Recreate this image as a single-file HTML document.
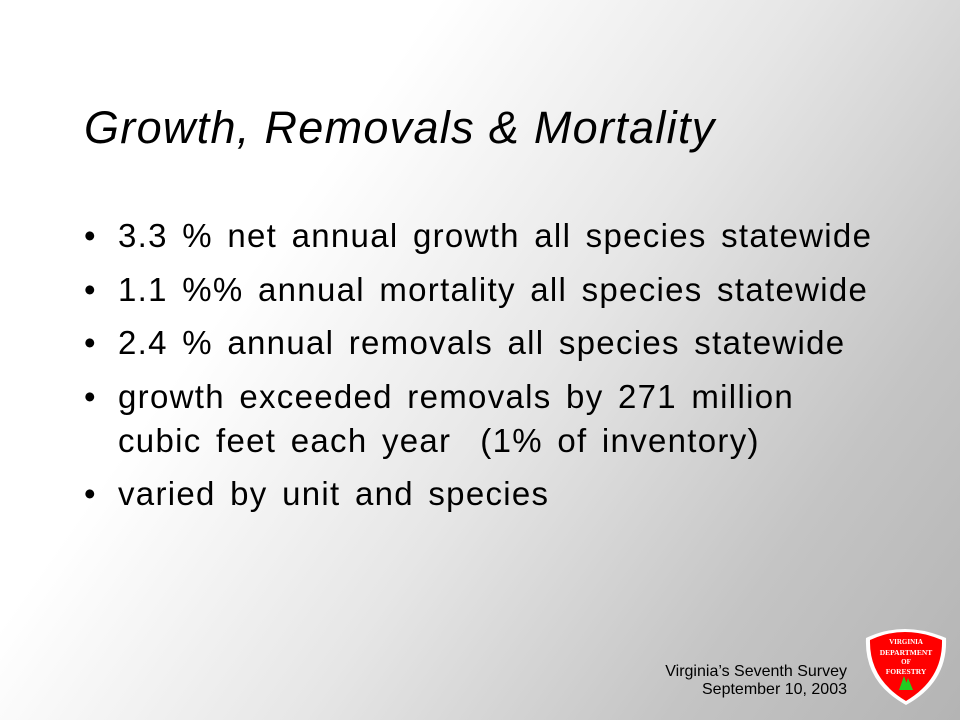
<!DOCTYPE html>
<html><head><meta charset="utf-8"><style>
body{margin:0;width:960px;height:720px;overflow:hidden;font-family:"Liberation Sans",sans-serif}
#s{position:relative;width:960px;height:720px;background:linear-gradient(125deg,#ffffff 0%,#ffffff 30%,#e6e6e6 55%,#c4c4c4 80%,#b4b4b4 100%)}
h1{position:absolute;left:84px;top:102px;margin:0;font-weight:normal;font-style:italic;font-size:45px;letter-spacing:1.3px;color:#000}
ul{position:absolute;left:84px;top:214px;margin:0;padding:0;list-style:none;font-size:33px;letter-spacing:1.3px;word-spacing:4px;color:#000}
li{position:relative;padding-left:34px;line-height:44px;margin-bottom:9.5px}
li:before{content:"•";position:absolute;left:0}
.f{position:absolute;right:113px;top:663px;text-align:right;font-size:16px;line-height:18px;color:#000}
</style></head><body>
<div id="s">
<h1>Growth, Removals &amp; Mortality</h1>
<ul>
<li>3.3 % net annual growth all species statewide</li>
<li>1.1 %% annual mortality all species statewide</li>
<li>2.4 % annual removals all species statewide</li>
<li>growth exceeded removals by 271 million<br>cubic feet each year&nbsp; (1% of inventory)</li>
<li>varied by unit and species</li>
</ul>
<div class="f">Virginia’s Seventh Survey<br>September 10, 2003</div>
<svg style="position:absolute;left:864px;top:624px" width="84" height="82" viewBox="0 0 84 82">
<path d="M2,14 Q40,-4 82,14 Q84,58 42,81 Q0,58 2,14Z" fill="#fff"/>
<path d="M6,16 Q40,0 78,16 Q79,55 42,77 Q5,55 6,16Z" fill="#f00"/>
<g fill="#fff" font-family="Liberation Serif,serif" font-weight="bold" text-anchor="middle">
<text x="42" y="20" font-size="7">VIRGINIA</text>
<text x="42" y="31" font-size="7.5">DEPARTMENT</text>
<text x="42" y="40" font-size="7">OF</text>
<text x="42" y="50" font-size="7.5">FORESTRY</text></g>
<path d="M40,52 L35,66 L45,66Z M44,54 L40,66 L49,66Z" fill="#2c2"/>
</svg>
</div></body></html>
